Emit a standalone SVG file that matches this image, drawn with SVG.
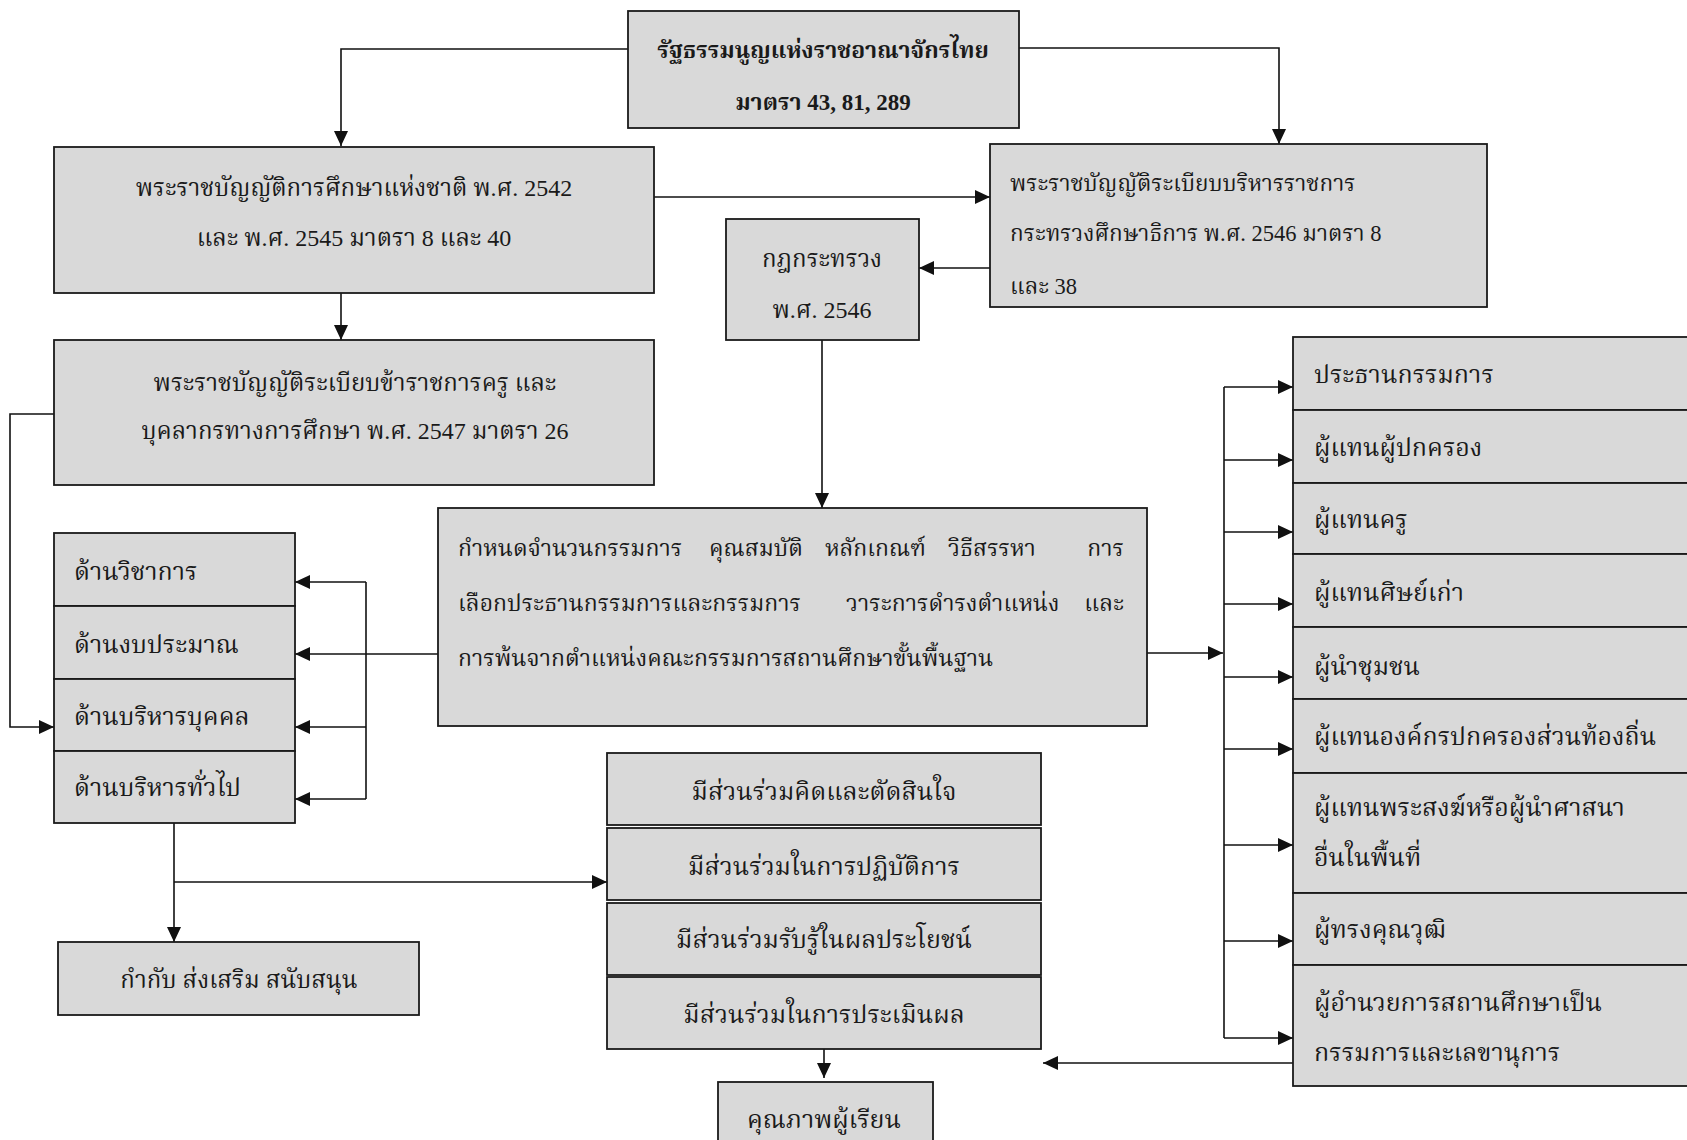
<svg xmlns="http://www.w3.org/2000/svg" width="1687" height="1140" viewBox="0 0 1687 1140">
<style>
.box{fill:#d9d9d9;stroke:#1a1a1a;stroke-width:1.8}
.t{font-family:"Liberation Serif","Noto Serif Thai","Noto Sans Thai",serif;font-size:24px;fill:#1a1a1a}
.m{font-size:25px}
.s{font-size:22.5px}
.d{font-size:23px}
.c{text-anchor:middle}
.e{text-anchor:end}
.b{font-weight:bold;font-size:23px}
.con{fill:none;stroke:#111;stroke-width:1.6}
</style>
<defs>
<marker id="ar" markerUnits="userSpaceOnUse" markerWidth="16" markerHeight="14" refX="15" refY="7" orient="auto">
<path d="M0,0 L15,7 L0,14 z" fill="#111"/>
</marker>
</defs>
<rect width="1687" height="1140" fill="#ffffff"/>

<g id="connectors">
<path class="con" d="M628,49 H341 V146" marker-end="url(#ar)"/>
<path class="con" d="M1019,48 H1279 V144" marker-end="url(#ar)"/>
<path class="con" d="M654,197 H990" marker-end="url(#ar)"/>
<path class="con" d="M990,268 H919" marker-end="url(#ar)"/>
<path class="con" d="M341,293 V340" marker-end="url(#ar)"/>
<path class="con" d="M822,340 V508" marker-end="url(#ar)"/>
<path class="con" d="M54,414 H10 V727 H54" marker-end="url(#ar)"/>
<path class="con" d="M438,654 H295" marker-end="url(#ar)"/>
<path class="con" d="M366,582 V799"/>
<path class="con" d="M366,582 H295" marker-end="url(#ar)"/>
<path class="con" d="M366,727 H295" marker-end="url(#ar)"/>
<path class="con" d="M366,799 H295" marker-end="url(#ar)"/>
<path class="con" d="M1147,653 H1223" marker-end="url(#ar)"/>
<path class="con" d="M1224,387 V1038"/>
<path class="con" d="M1224,387 H1293" marker-end="url(#ar)"/>
<path class="con" d="M1224,460 H1293" marker-end="url(#ar)"/>
<path class="con" d="M1224,532 H1293" marker-end="url(#ar)"/>
<path class="con" d="M1224,604 H1293" marker-end="url(#ar)"/>
<path class="con" d="M1224,677 H1293" marker-end="url(#ar)"/>
<path class="con" d="M1224,749 H1293" marker-end="url(#ar)"/>
<path class="con" d="M1224,845 H1293" marker-end="url(#ar)"/>
<path class="con" d="M1224,941 H1293" marker-end="url(#ar)"/>
<path class="con" d="M1224,1038 H1293" marker-end="url(#ar)"/>
<path class="con" d="M1330,1063 H1043" marker-end="url(#ar)"/>
<path class="con" d="M174,823 V942" marker-end="url(#ar)"/>
<path class="con" d="M174,882 H607" marker-end="url(#ar)"/>
<path class="con" d="M824,1049 V1078" marker-end="url(#ar)"/>
</g>

<g id="n-constitution">
<rect class="box" x="628" y="11" width="391" height="117"/>
<text class="t c b" x="823" y="58">รัฐธรรมนูญแห่งราชอาณาจักรไทย</text>
<text class="t c b" x="823" y="110">มาตรา 43, 81, 289</text>
</g>

<g id="n-nea">
<rect class="box" x="54" y="147" width="600" height="146"/>
<text class="t c" x="354" y="196">พระราชบัญญัติการศึกษาแห่งชาติ พ.ศ. 2542</text>
<text class="t c" x="354" y="246">และ พ.ศ. 2545 มาตรา 8 และ 40</text>
</g>

<g id="n-admin">
<rect class="box" x="990" y="144" width="497" height="163"/>
<text class="t s" x="1010" y="191">พระราชบัญญัติระเบียบบริหารราชการ</text>
<text class="t s" x="1010" y="241">กระทรวงศึกษาธิการ  พ.ศ. 2546  มาตรา 8</text>
<text class="t s" x="1010" y="294">และ 38</text>
</g>

<g id="n-rule">
<rect class="box" x="726" y="219" width="193" height="121"/>
<text class="t c" x="822" y="267">กฎกระทรวง</text>
<text class="t c" x="822" y="318">พ.ศ. 2546</text>
</g>

<g id="n-teacher">
<rect class="box" x="54" y="340" width="600" height="145"/>
<text class="t c" x="355" y="391">พระราชบัญญัติระเบียบข้าราชการครู และ</text>
<text class="t c" x="355" y="439">บุคลากรทางการศึกษา พ.ศ. 2547  มาตรา 26</text>
</g>

<g id="n-define">
<rect class="box" x="438" y="508" width="709" height="218"/>
<text class="t d" x="458" y="556">กำหนดจำนวนกรรมการ</text>
<text class="t d" x="709" y="556">คุณสมบัติ</text>
<text class="t d" x="825" y="556">หลักเกณฑ์</text>
<text class="t d" x="948" y="556">วิธีสรรหา</text>
<text class="t d e" x="1124" y="556">การ</text>
<text class="t d" x="458" y="611">เลือกประธานกรรมการและกรรมการ</text>
<text class="t d" x="846" y="611">วาระการดำรงตำแหน่ง</text>
<text class="t d e" x="1124" y="611">และ</text>
<text class="t d" x="458" y="666">การพ้นจากตำแหน่งคณะกรรมการสถานศึกษาขั้นพื้นฐาน</text>
</g>

<g id="n-areas">
<rect class="box" x="54" y="533" width="241" height="73"/>
<rect class="box" x="54" y="606" width="241" height="73"/>
<rect class="box" x="54" y="679" width="241" height="72"/>
<rect class="box" x="54" y="751" width="241" height="72"/>
<text class="t m" x="74" y="580">ด้านวิชาการ</text>
<text class="t m" x="74" y="653">ด้านงบประมาณ</text>
<text class="t m" x="74" y="725">ด้านบริหารบุคคล</text>
<text class="t m" x="74" y="796">ด้านบริหารทั่วไป</text>
</g>

<g id="n-support">
<rect class="box" x="58" y="942" width="361" height="73"/>
<text class="t c" x="239" y="988">กำกับ  ส่งเสริม  สนับสนุน</text>
</g>

<g id="n-participation">
<rect class="box" x="607" y="753" width="434" height="72"/>
<rect class="box" x="607" y="828" width="434" height="72"/>
<rect class="box" x="607" y="903" width="434" height="72"/>
<rect class="box" x="607" y="977" width="434" height="72"/>
<text class="t c m" x="824" y="800">มีส่วนร่วมคิดและตัดสินใจ</text>
<text class="t c m" x="824" y="875">มีส่วนร่วมในการปฏิบัติการ</text>
<text class="t c m" x="824" y="948">มีส่วนร่วมรับรู้ในผลประโยชน์</text>
<text class="t c m" x="824" y="1023">มีส่วนร่วมในการประเมินผล</text>
</g>

<g id="n-quality">
<rect class="box" x="718" y="1082" width="215" height="70"/>
<text class="t c m" x="824" y="1128">คุณภาพผู้เรียน</text>
</g>

<g id="n-committee">
<rect class="box" x="1293" y="337" width="410" height="73"/>
<rect class="box" x="1293" y="410" width="410" height="73"/>
<rect class="box" x="1293" y="483" width="410" height="71"/>
<rect class="box" x="1293" y="554" width="410" height="73"/>
<rect class="box" x="1293" y="627" width="410" height="72"/>
<rect class="box" x="1293" y="699" width="410" height="74"/>
<rect class="box" x="1293" y="773" width="410" height="120"/>
<rect class="box" x="1293" y="893" width="410" height="72"/>
<rect class="box" x="1293" y="965" width="410" height="121"/>
<text class="t m" x="1314" y="383">ประธานกรรมการ</text>
<text class="t m" x="1314" y="456">ผู้แทนผู้ปกครอง</text>
<text class="t m" x="1314" y="528">ผู้แทนครู</text>
<text class="t m" x="1314" y="601">ผู้แทนศิษย์เก่า</text>
<text class="t m" x="1314" y="675">ผู้นำชุมชน</text>
<text class="t m" x="1314" y="745">ผู้แทนองค์กรปกครองส่วนท้องถิ่น</text>
<text class="t m" x="1314" y="816">ผู้แทนพระสงฆ์หรือผู้นำศาสนา</text>
<text class="t m" x="1314" y="866">อื่นในพื้นที่</text>
<text class="t m" x="1314" y="938">ผู้ทรงคุณวุฒิ</text>
<text class="t m" x="1314" y="1011">ผู้อำนวยการสถานศึกษาเป็น</text>
<text class="t m" x="1314" y="1061">กรรมการและเลขานุการ</text>
</g>
</svg>
